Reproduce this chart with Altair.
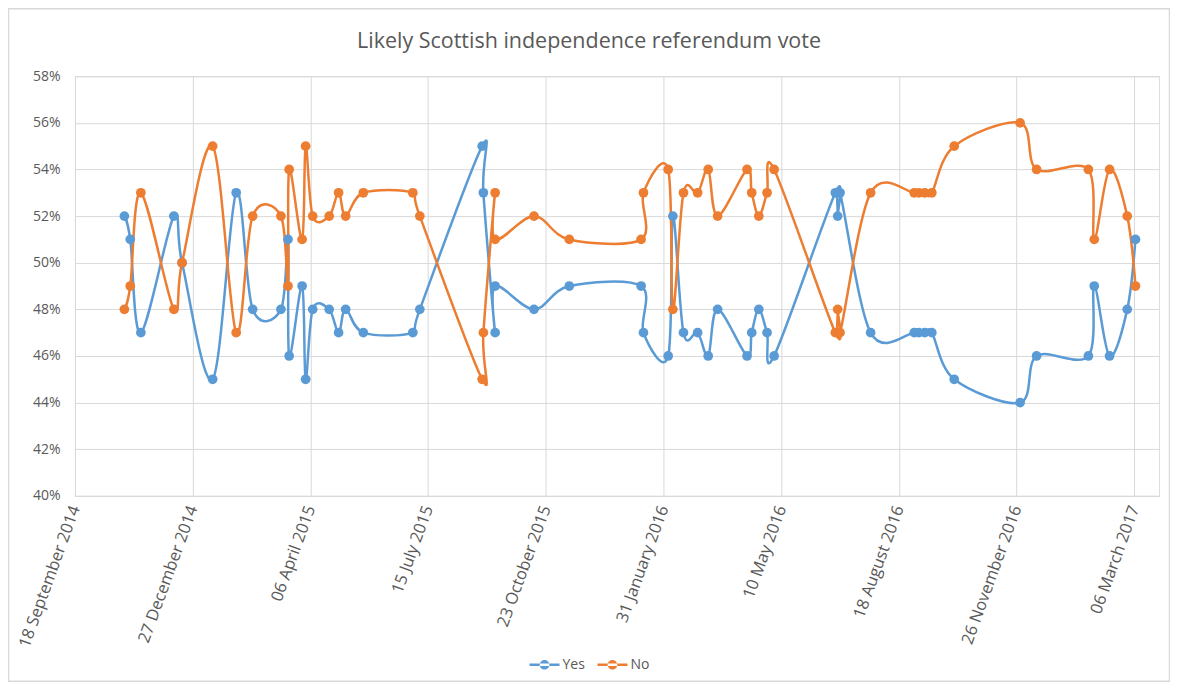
import altair as alt
import pandas as pd

title_text = "Likely Scottish independence  referendum vote"

poll_dates = [
    "2014-10-30", "2014-11-04", "2014-11-13", "2014-12-11", "2014-12-18",
    "2015-01-13", "2015-02-02", "2015-02-16", "2015-03-12", "2015-03-18",
    "2015-03-19", "2015-03-30", "2015-04-02", "2015-04-08", "2015-04-22",
    "2015-04-30", "2015-05-06", "2015-05-21", "2015-07-02", "2015-07-08",
    "2015-08-30", "2015-08-31", "2015-09-10", "2015-09-10", "2015-10-13",
    "2015-11-12", "2016-01-12", "2016-01-14", "2016-02-04", "2016-02-08",
    "2016-02-17", "2016-02-29", "2016-03-09", "2016-03-17", "2016-04-11",
    "2016-04-15", "2016-04-21", "2016-04-28", "2016-05-04", "2016-06-25",
    "2016-06-27", "2016-06-29", "2016-07-25", "2016-08-31", "2016-09-04",
    "2016-09-09", "2016-09-15", "2016-10-04", "2016-11-29", "2016-12-13",
    "2017-01-26", "2017-01-31", "2017-02-13", "2017-02-28", "2017-03-07",
]
yes_pct = [52, 51, 47, 52, 50, 45, 53, 48, 48, 51, 46, 49, 45, 48, 48, 47, 48, 47, 47, 48,
           55, 53, 47, 49, 48, 49, 49, 47, 46, 52, 47, 47, 46, 48, 46, 47, 48, 47, 46, 53,
           52, 53, 47, 47, 47, 47, 47, 45, 44, 46, 46, 49, 46, 48, 51]
no_pct = [48, 49, 53, 48, 50, 55, 47, 52, 52, 49, 54, 51, 55, 52, 52, 53, 52, 53, 53, 52,
          45, 47, 53, 51, 52, 51, 51, 53, 54, 48, 53, 53, 54, 52, 54, 53, 52, 53, 54, 47,
          48, 47, 53, 53, 53, 53, 53, 55, 56, 54, 54, 51, 54, 52, 49]

series_names = ["Yes", "No"]
series_colors = ["#5B9BD5", "#ED7D31"]
tick_dates = ["2014-09-18", "2014-12-27", "2015-04-06", "2015-07-15", "2015-10-23",
              "2016-01-31", "2016-05-10", "2016-08-18", "2016-11-26", "2017-03-06"]
x_domain = ["2014-09-18", "2017-03-27"]
y_ticks = [40, 42, 44, 46, 48, 50, 52, 54, 56, 58]

rows = []
for i, d in enumerate(poll_dates):
    rows.append({"idx": i, "date": d, "series": "Yes", "value": yes_pct[i]})
    rows.append({"idx": i, "date": d, "series": "No", "value": no_pct[i]})
df = pd.DataFrame(rows)


def dt(s):
    y, m, d = (int(p) for p in s.split("-"))
    return alt.DateTime(year=y, month=m, date=d, utc=True)


W, H = 1085, 420
PAD = {"left": 67, "top": 68, "right": 11, "bottom": 186}
GRID = "#D9D9D9"
TXT = "#595959"
FONT = "Open Sans"

legend_path = ("M-1,-0.08L1,-0.08L1,0.08L-1,0.08Z "
               "M-0.32,0A0.32,0.32 0 1,0 0.32,0A0.32,0.32 0 1,0 -0.32,0Z")

x_enc = alt.X(
    "date:T",
    scale=alt.Scale(type="utc", domain=[dt(s) for s in x_domain]),
    axis=alt.Axis(
        values=[dt(s) for s in tick_dates],
        labelExpr="utcFormat(datum.value, '%d %B %Y')",
        labelAngle=-70, labelAlign="right", labelBaseline="middle",
        labelFontSize=16.5, labelColor=TXT, labelFont=FONT, labelPadding=10,
        grid=True, gridColor=GRID, ticks=False, domainColor=GRID,
        title=None, labelOverlap=False,
    ),
)
y_enc = alt.Y(
    "value:Q",
    scale=alt.Scale(domain=[40, 58], nice=False, zero=False),
    axis=alt.Axis(
        values=y_ticks, labelExpr="datum.value + '%'",
        labelFontSize=14, labelColor=TXT, labelFont=FONT, labelPadding=15,
        grid=True, gridColor=GRID, ticks=False, domain=False, title=None,
    ),
)
color_enc = alt.Color(
    "series:N",
    scale=alt.Scale(domain=series_names, range=series_colors),
    legend=alt.Legend(
        title=None, orient="none", direction="horizontal",
        legendX=455, legendY=574,
        symbolType=legend_path, symbolSize=900, symbolStrokeWidth=0,
        labelFontSize=14, labelColor=TXT, labelFont=FONT,
        columnPadding=12, labelOffset=3,
    ),
)

base = alt.Chart(df)
lines = base.mark_line(interpolate="cardinal", tension=0, strokeWidth=2.5).encode(
    x=x_enc, y=y_enc, color=color_enc, order=alt.Order("idx:Q"),
    detail="series:N",
)
points = base.mark_point(filled=True, size=95, opacity=1).encode(
    x=x_enc, y=y_enc, color=color_enc,
)

one = pd.DataFrame({"a": [0]})
border = alt.Chart(one).mark_rect(
    fill=None, stroke=GRID, strokeWidth=1.5
).encode(
    x=alt.value(-PAD["left"] + 0.5), x2=alt.value(W + PAD["right"] - 0.5),
    y=alt.value(-PAD["top"] + 0.5), y2=alt.value(H + PAD["bottom"] - 0.5),
)
title_mark = alt.Chart(one).mark_text(
    text=title_text, font=FONT, fontSize=21.5, color=TXT,
    align="center", baseline="alphabetic",
).encode(
    x=alt.value((W + PAD["right"] - PAD["left"]) / 2),
    y=alt.value(-28),
)

chart = alt.layer(border, title_mark, lines, points).properties(
    width=W, height=H,
    autosize=alt.AutoSizeParams(type="none"),
    padding=PAD,
).configure_view(stroke=None).configure(background="white")

chart.save("out.html", embed_options={"renderer": "svg", "actions": False})
